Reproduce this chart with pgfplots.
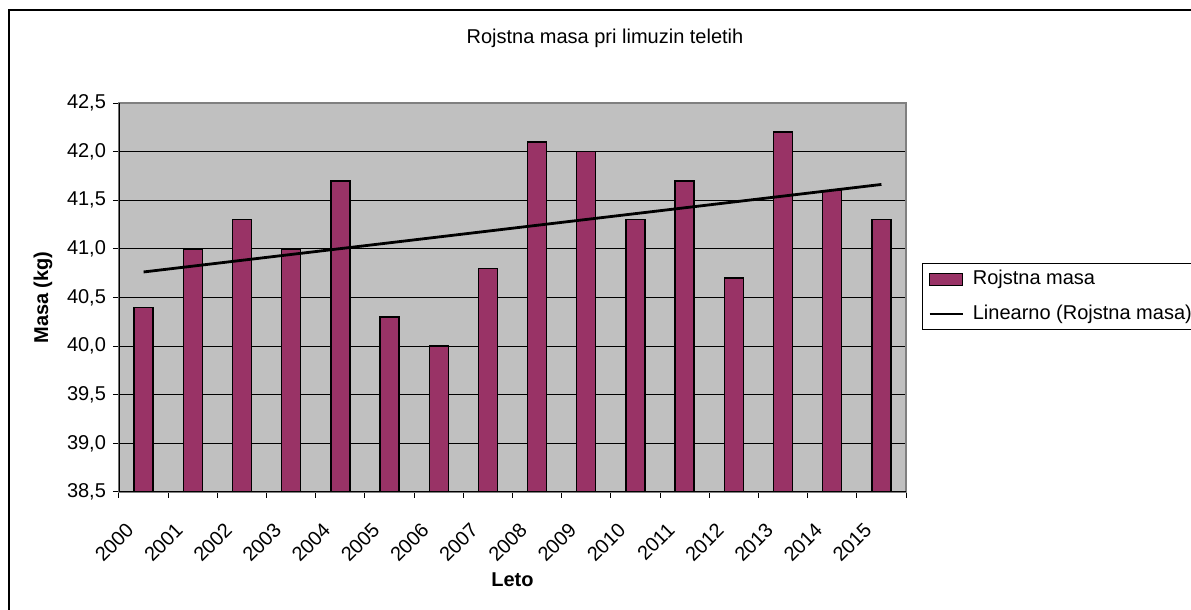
\documentclass[border=0pt]{standalone}
\usepackage{pgfplots}
\pgfplotsset{compat=1.18}
\usepackage{fontspec}
\setmainfont{Liberation Sans}
\definecolor{barc}{HTML}{993366}
\definecolor{bgc}{HTML}{C0C0C0}
\definecolor{edgec}{HTML}{808080}
\begin{document}
\begin{tikzpicture}
\useasboundingbox (0,0) rectangle (595.5pt,305pt);
\draw[line width=1pt] (4.5pt,-5pt) -- (4.5pt,300pt) -- (610pt,300pt);
\begin{axis}[
  at={(59.5pt,59pt)}, anchor=south west, scale only axis,
  width=393.5pt, height=194.5pt,
  xmin=-0.5, xmax=15.5, ymin=38.5, ymax=42.5,
  axis background/.style={fill=bgc},
  axis line style={draw=edgec, line width=0.6pt},
  xtick={-0.5,0.5,...,15.5},
  x tick label as interval,
  xticklabels={2000,2001,2002,2003,2004,2005,2006,2007,2008,2009,2010,2011,2012,2013,2014,2015},
  ytick={38.5,39,39.5,40,40.5,41,41.5,42,42.5},
  ymajorgrids, grid style={black, line width=0.5pt},
  tick align=outside, major tick length=3pt,
  xtick pos=bottom, ytick pos=left,
  tick style={black, line width=0.5pt},
  tick label style={font=\fontsize{10}{12}\selectfont},
  xticklabel style={xshift=-9.3pt, yshift=-11.5pt, rotate=45, anchor=north east, inner sep=0pt},
  yticklabel style={/pgf/number format/.cd, fixed, fixed zerofill, precision=1, use comma, assume math mode=true},
  /pgf/number format/assume math mode=true,
  every axis title shift=0pt,
  title={Rojstna masa pri limuzin teletih},
  title style={at={(0.6175,1.167)}, anchor=center, font=\fontsize{10}{12}\selectfont},
  xlabel={Leto},
  xlabel style={at={(axis description cs:0.5,-0.226)}, anchor=center, font=\bfseries\fontsize{10}{12}\selectfont},
  ylabel={Masa (kg)},
  ylabel style={at={(axis description cs:-0.0966,0.5)}, anchor=center, font=\bfseries\fontsize{10}{12}\selectfont},
  legend style={at={(1.0203,0.5887)}, anchor=north west, draw=black, line width=0.5pt, fill=white,
    font=\fontsize{10}{12}\selectfont, inner xsep=3pt, inner ysep=2pt, row sep=5.5pt,
    nodes={inner sep=1.5pt},
    /tikz/every odd column/.append style={column sep=3pt}},
  legend cell align=left,
]
\addplot[ybar, bar width=9.5pt, fill=barc, draw=black, line width=0.7pt,
  legend image code/.code={\draw[fill=barc, draw=black, line width=0.6pt] (0pt,-3pt) rectangle (16.5pt,3pt);}]
  coordinates {
  (0,40.4) (1,41.0) (2,41.3) (3,41.0) (4,41.7) (5,40.3) (6,40.0) (7,40.8)
  (8,42.1) (9,42.0) (10,41.3) (11,41.7) (12,40.7) (13,42.2) (14,41.6) (15,41.3)};
\addlegendentry{Rojstna masa}
\addplot[sharp plot, black, line width=1.4pt,
  legend image code/.code={\draw[black, line width=1.2pt] (0pt,0pt) -- (16.5pt,0pt);}]
  coordinates {(0,40.7625) (15,41.6625)};
\addlegendentry{Linearno (Rojstna masa)}
\draw[black, line width=0.6pt] (rel axis cs:0,1) -- (rel axis cs:0,0) -- (rel axis cs:1,0);
\end{axis}
\end{tikzpicture}
\end{document}
